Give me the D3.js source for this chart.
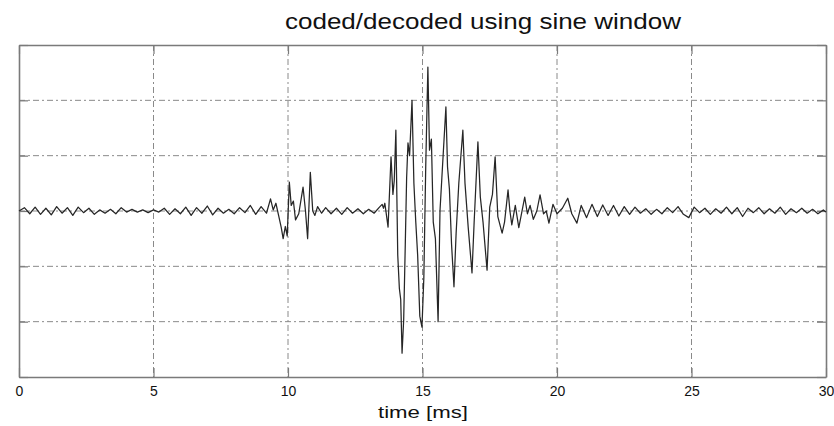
<!DOCTYPE html>
<html>
<head>
<meta charset="utf-8">
<script src="https://cdn.jsdelivr.net/npm/d3@7/dist/d3.min.js"></script>
<style>
  html, body { margin: 0; padding: 0; background: #fff; }
  svg { display: block; }
  text { font-family: "Liberation Sans", Arial, Helvetica, sans-serif; fill: #111; }
</style>
</head>
<body>
<svg id="chart" width="834" height="426"></svg>
<script>
// ---- data (time in ms, amplitude in grid units) ----
const titleText = "coded/decoded using sine window";
const xLabelText = "time [ms]";
const xTickValues = [0, 5, 10, 15, 20, 25, 30];
const yTickValues = [-3, -2, -1, 0, 1, 2, 3];

const quietLead = [
  [0.0, 0.0], [0.2, 0.06], [0.4, -0.05], [0.6, 0.07], [0.8, -0.06], [1.0, 0.05],
  [1.2, -0.07], [1.4, 0.08], [1.6, -0.04], [1.8, 0.06], [2.0, -0.08], [2.2, 0.07],
  [2.4, -0.03], [2.6, 0.05], [2.8, -0.06], [3.0, 0.02], [3.2, -0.04], [3.4, 0.03],
  [3.6, -0.05], [3.8, 0.06], [4.0, -0.02], [4.2, 0.03], [4.4, -0.02], [4.6, 0.02],
  [4.8, -0.03], [5.0, 0.02], [5.2, -0.02], [5.4, 0.05], [5.6, -0.06], [5.8, 0.04],
  [6.0, -0.05], [6.2, 0.07], [6.4, -0.08], [6.6, 0.06], [6.8, -0.04], [7.0, 0.09],
  [7.2, -0.07], [7.4, 0.05], [7.6, -0.04], [7.8, 0.03], [8.0, -0.05], [8.2, 0.06],
  [8.4, -0.03], [8.6, 0.1], [8.8, -0.06]
];

const firstBurst = [
  [9.0, 0.08], [9.2, -0.04], [9.35, 0.22], [9.45, 0.02], [9.55, 0.14], [9.65, -0.08],
  [9.75, -0.3], [9.82, -0.5], [9.9, -0.28], [9.97, -0.45], [10.05, 0.52], [10.12, 0.1],
  [10.2, 0.18], [10.28, -0.16], [10.4, -0.05], [10.56, 0.43], [10.65, 0.0], [10.73, -0.5],
  [10.83, 0.7], [10.92, 0.0], [11.0, -0.08], [11.1, 0.08], [11.25, -0.04]
];

const quietGap = [
  [11.4, 0.06], [11.6, -0.05], [11.8, 0.05], [12.0, -0.06], [12.2, 0.06], [12.4, -0.04],
  [12.6, 0.04], [12.8, -0.05], [13.0, 0.03], [13.2, -0.04], [13.4, 0.07], [13.5, 0.12],
  [13.55, 0.05]
];

const mainBurst = [
  [13.6, 0.14], [13.72, -0.29], [13.83, 0.98], [13.9, 0.3], [13.95, 0.55], [14.01, 1.46],
  [14.08, -0.8], [14.14, -1.4], [14.19, -1.6], [14.24, -2.57], [14.3, -1.97], [14.36, -0.6],
  [14.41, 0.6], [14.46, 1.23], [14.52, 1.0], [14.61, 2.0], [14.68, 0.5], [14.75, -0.2],
  [14.82, -0.8], [14.9, -1.9], [14.98, -2.1], [15.05, -1.2], [15.12, 0.8], [15.2, 2.6],
  [15.26, 1.1], [15.33, 1.3], [15.4, -0.2], [15.48, -0.5], [15.58, -2.0], [15.65, 0.0],
  [15.72, 0.6], [15.87, 1.88], [15.93, 0.8], [16.0, 0.4], [16.08, -0.6], [16.17, -1.37],
  [16.25, -0.4], [16.35, 0.5], [16.5, 1.46], [16.58, 0.5], [16.7, -0.3], [16.84, -1.12],
  [16.92, -0.2], [17.06, 1.25], [17.15, 0.25], [17.25, -0.2], [17.4, -1.07], [17.5, 0.07],
  [17.6, 0.3], [17.7, 0.98], [17.8, -0.1], [17.96, -0.4], [18.05, -0.2], [18.18, 0.38],
  [18.25, 0.0], [18.32, -0.25], [18.45, 0.1], [18.58, -0.3], [18.8, 0.25], [18.9, -0.05],
  [19.0, 0.1], [19.12, -0.15], [19.25, 0.0], [19.37, 0.29], [19.5, -0.05], [19.6, 0.0],
  [19.7, -0.22]
];

const quietTail = [
  [19.85, 0.12], [20.0, -0.05], [20.2, 0.05], [20.4, 0.23], [20.55, -0.05], [20.74, -0.22],
  [20.9, 0.1], [21.1, -0.12], [21.3, 0.12], [21.5, -0.1], [21.7, 0.11], [21.9, -0.08],
  [22.1, 0.1], [22.3, -0.09], [22.5, 0.08], [22.7, -0.06], [22.9, 0.07], [23.1, -0.04],
  [23.3, 0.04], [23.5, -0.06], [23.7, 0.03], [23.9, -0.05], [24.1, 0.06], [24.3, -0.03],
  [24.5, 0.08], [24.7, -0.06], [24.9, -0.12], [25.1, 0.07], [25.3, -0.03], [25.5, 0.05],
  [25.7, -0.06], [25.9, 0.04], [26.1, -0.04], [26.3, 0.07], [26.5, -0.05], [26.7, 0.06],
  [26.9, -0.1], [27.1, 0.05], [27.3, -0.03], [27.5, 0.06], [27.7, -0.05], [27.9, 0.04],
  [28.1, -0.04], [28.3, 0.07], [28.5, -0.06], [28.7, 0.04], [28.9, -0.03], [29.1, 0.05],
  [29.3, -0.04], [29.5, 0.03], [29.7, -0.05], [29.9, 0.02], [30.0, -0.02]
];

// ---- layout ----
const svg = d3.select("#chart");
const plot = { left: 19, right: 826, top: 45, bottom: 377 };

const x = d3.scaleLinear().domain([0, 30]).range([plot.left, plot.right]);
const y = d3.scaleLinear().domain([-3, 3]).range([plot.bottom, plot.top]);

const gridColor = "#8a8a8a";
const frameColor = "#7a7a7a";

// grid lines (dash-dot)
const grid = svg.append("g");
grid.selectAll("line.vg")
  .data(xTickValues.slice(1, -1))
  .join("line")
  .attr("x1", d => x(d)).attr("x2", d => x(d))
  .attr("y1", plot.top).attr("y2", plot.bottom)
  .attr("stroke", gridColor).attr("stroke-width", 1)
  .attr("stroke-dasharray", "6,3,2,3");
grid.selectAll("line.hg")
  .data(yTickValues.slice(1, -1))
  .join("line")
  .attr("x1", plot.left).attr("x2", plot.right)
  .attr("y1", d => y(d)).attr("y2", d => y(d))
  .attr("stroke", gridColor).attr("stroke-width", 1)
  .attr("stroke-dasharray", "6,3,2,3");

// axes with inward ticks
const tickLen = 9;
const axB = svg.append("g").attr("transform", `translate(0,${plot.bottom})`)
  .call(d3.axisBottom(x).tickValues(xTickValues).tickSizeInner(-tickLen).tickSizeOuter(0).tickPadding(9).tickFormat(d3.format("d")));
const axT = svg.append("g").attr("transform", `translate(0,${plot.top})`)
  .call(d3.axisTop(x).tickValues(xTickValues).tickSizeInner(-tickLen).tickSizeOuter(0).tickFormat(""));
const axL = svg.append("g").attr("transform", `translate(${plot.left},0)`)
  .call(d3.axisLeft(y).tickValues(yTickValues).tickSizeInner(-tickLen).tickSizeOuter(0).tickFormat(""));
const axR = svg.append("g").attr("transform", `translate(${plot.right},0)`)
  .call(d3.axisRight(y).tickValues(yTickValues).tickSizeInner(-tickLen).tickSizeOuter(0).tickFormat(""));

[axB, axT, axL, axR].forEach(g => {
  g.select(".domain").attr("stroke", frameColor).attr("stroke-width", 1.6);
  g.selectAll(".tick line").attr("stroke", frameColor).attr("stroke-width", 1.2);
});
axB.selectAll(".tick text")
  .attr("font-size", 14)
  .attr("font-family", "Liberation Sans, Arial, sans-serif")
  .attr("fill", "#222");

// signal
const signal = [].concat(quietLead, firstBurst, quietGap, mainBurst, quietTail);
const line = d3.line().x(d => x(d[0])).y(d => y(d[1]));
svg.append("path")
  .datum(signal)
  .attr("d", line)
  .attr("fill", "none")
  .attr("stroke", "#262626")
  .attr("stroke-width", 1.25)
  .attr("stroke-linejoin", "round");

// title and axis label
svg.append("text")
  .attr("x", 483).attr("y", 29)
  .attr("text-anchor", "middle")
  .attr("font-size", 22)
  .attr("textLength", 396)
  .attr("lengthAdjust", "spacingAndGlyphs")
  .text(titleText);

svg.append("text")
  .attr("x", 423).attr("y", 418)
  .attr("text-anchor", "middle")
  .attr("font-size", 17)
  .attr("textLength", 90)
  .attr("lengthAdjust", "spacingAndGlyphs")
  .text(xLabelText);
</script>
</body>
</html>
